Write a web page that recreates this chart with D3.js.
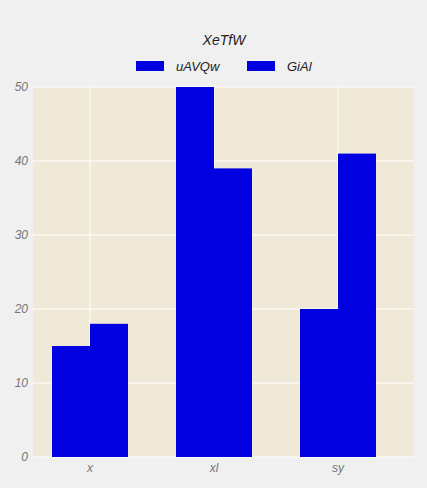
<!DOCTYPE html>
<html><head><meta charset="utf-8">
<script src="https://cdn.jsdelivr.net/npm/d3@7"></script>
<style>body{margin:0;background:#f0f0f0;}text{font-family:"Liberation Sans",Arial,sans-serif;font-style:italic;}</style>
</head><body><svg id="c" width="427" height="488"></svg>
<script>
const categories = ["x", "xl", "sy"];
const seriesNames = ["uAVQw", "GiAl"];
const seriesA = [15, 50, 20];
const seriesB = [18, 39, 41];
const yTicks = [0, 10, 20, 30, 40, 50];

const svg = d3.select("#c");
const pl = 33, pr = 414, pt = 87, pb = 457;

const x = d3.scaleBand().domain(categories).range([28, 400]);
const y = d3.scaleLinear().domain([0, 50]).range([pb, pt]);
const barW = 38;

svg.append("rect").attr("x", pl).attr("y", pt).attr("width", pr - pl).attr("height", pb - pt).attr("fill", "#f0e9d8");

// Grid
svg.selectAll(".hg").data(yTicks).enter().append("line")
  .attr("x1", pl).attr("x2", pr).attr("y1", d => y(d)).attr("y2", d => y(d))
  .attr("stroke", "#ffffff").attr("stroke-width", 1);
svg.selectAll(".vg").data(categories).enter().append("line")
  .attr("x1", d => x(d) + x.bandwidth() / 2).attr("x2", d => x(d) + x.bandwidth() / 2)
  .attr("y1", pt).attr("y2", pb).attr("stroke", "#ffffff").attr("stroke-width", 1);

// Bars
const series = [seriesA, seriesB];
series.forEach((vals, si) => {
  svg.selectAll(".b" + si).data(categories).enter().append("rect")
    .attr("x", (d) => x(d) + x.bandwidth() / 2 - barW + si * barW)
    .attr("y", (d, i) => y(vals[i]))
    .attr("width", barW)
    .attr("height", (d, i) => pb - y(vals[i]))
    .attr("fill", "#0000e0");
});

// Axis labels
svg.selectAll(".yl").data(yTicks).enter().append("text")
  .attr("x", 28).attr("y", d => y(d) + 4).attr("text-anchor", "end")
  .attr("font-size", 12).attr("fill", "#777").text(d => d);
svg.selectAll(".xl").data(categories).enter().append("text")
  .attr("x", d => x(d) + x.bandwidth() / 2).attr("y", pb + 15).attr("text-anchor", "middle")
  .attr("font-size", 12).attr("fill", "#777").text(d => d);

// Title
svg.append("text").attr("x", 224).attr("y", 45).attr("text-anchor", "middle")
  .attr("font-size", 14).attr("fill", "#222").text("XeTfW");

// Legend
const legX = [136, 247];
seriesNames.forEach((n, i) => {
  svg.append("rect").attr("x", legX[i]).attr("y", 61).attr("width", 28).attr("height", 10).attr("fill", "#0000e0");
  svg.append("text").attr("x", legX[i] + 40).attr("y", 71).attr("font-size", 13).attr("fill", "#222").text(n);
});
</script></body></html>
